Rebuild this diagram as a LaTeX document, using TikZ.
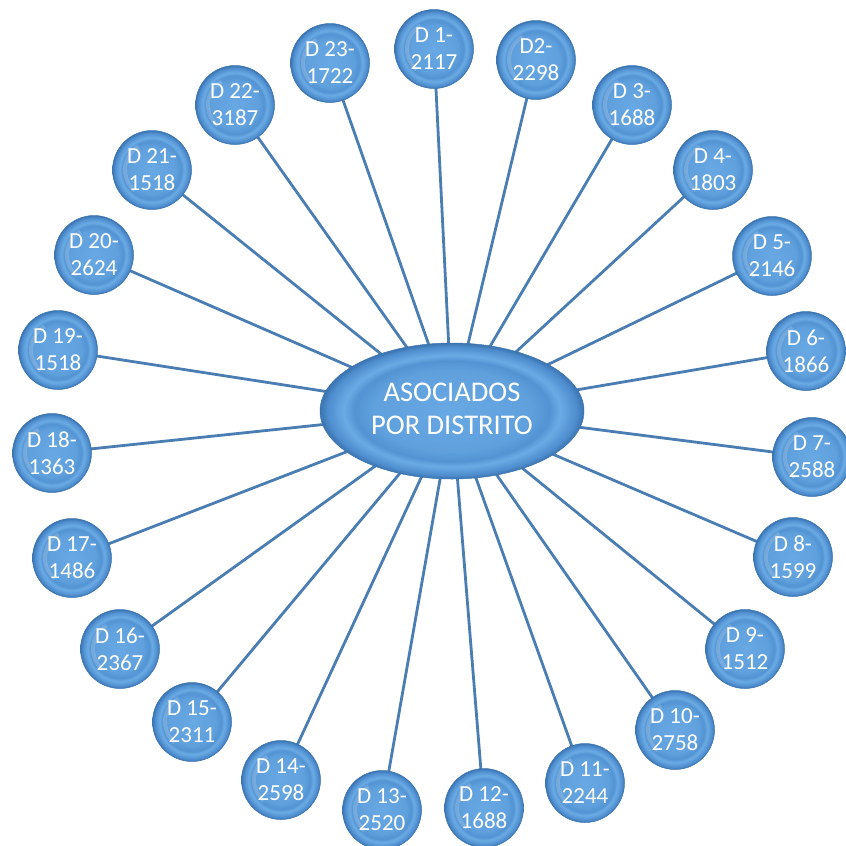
\documentclass[tikz,border=0pt]{standalone}
\usepackage{fontspec}
\setmainfont{Carlito}
\usetikzlibrary{shapes.geometric}
\definecolor{bA}{HTML}{68A9E4}
\definecolor{bB}{HTML}{5FA0DD}
\definecolor{bC}{HTML}{5393D3}
\definecolor{bD}{HTML}{6BABE4}
\definecolor{bE}{HTML}{4F8ECF}
\definecolor{bF}{HTML}{3B74B0}
\definecolor{spokecol}{HTML}{4A7DB2}
\pgfdeclareradialshading{bead}{\pgfpoint{0bp}{0bp}}{color(0bp)=(bA); color(15bp)=(bB); color(18.5bp)=(bC); color(20.5bp)=(bD); color(23.5bp)=(bE); color(25bp)=(bF); color(50bp)=(bF)}
\pgfdeclarelayer{background}
\pgfsetlayers{background,main}
\tikzset{
  bead/.style={circle, minimum size=79pt, inner sep=0pt, shading=bead, draw=bF, line width=0.5pt,
    text=white, align=center, font=\fontsize{23}{27}\selectfont,
    path picture={\draw[white, opacity=0.18, line width=4pt] (path picture bounding box.center) ++(120:27pt) arc[start angle=120, end angle=230, radius=27pt];}},
  hub/.style={ellipse, minimum width=264pt, minimum height=136pt, inner sep=0pt, shading=bead, draw=bF, line width=0.5pt,
    text=white, align=center, font=\fontsize{28.5}{35}\selectfont},
  spoke/.style={draw=spokecol, line width=2.8pt}
}
\begin{document}
\begin{tikzpicture}[x=1pt,y=-1pt]
\useasboundingbox (0,0) rectangle (846,846);
\begin{scope}
\clip (0,0) rectangle (846,846);
\node[hub] (c) at (452,411) {\raisebox{-6pt}{\begin{tabular}{@{}c@{}}ASOCIADOS\\[-2pt]POR DISTRITO\end{tabular}}};
\node[bead] (d1) at (434,49) {D 1-\\2117};
\node[bead] (d2) at (536,60) {D2-\\2298};
\node[bead] (d3) at (632,105) {D 3-\\1688};
\node[bead] (d4) at (713,170) {D 4-\\1803};
\node[bead] (d5) at (772,256) {D 5-\\2146};
\node[bead] (d6) at (806,351) {D 6-\\1866};
\node[bead] (d7) at (812,457) {D 7-\\2588};
\node[bead] (d8) at (793,557) {D 8-\\1599};
\node[bead] (d9) at (745,649) {D 9-\\1512};
\node[bead] (d10) at (675,730) {D 10-\\2758};
\node[bead] (d11) at (585,783) {D 11-\\2244};
\node[bead] (d12) at (484,808) {D 12-\\1688};
\node[bead] (d13) at (382,810) {D 13-\\2520};
\node[bead] (d14) at (281,780) {D 14-\\2598};
\node[bead] (d15) at (192,722) {D 15-\\2311};
\node[bead] (d16) at (120,649) {D 16-\\2367};
\node[bead] (d17) at (72,558) {D 17-\\1486};
\node[bead] (d18) at (52,453) {D 18-\\1363};
\node[bead] (d19) at (58,350) {D 19-\\1518};
\node[bead] (d20) at (94,255) {D 20-\\2624};
\node[bead] (d21) at (152,170) {D 21-\\1518};
\node[bead] (d22) at (235,105) {D 22-\\3187};
\node[bead] (d23) at (330,63) {D 23-\\1722};
\begin{pgfonlayer}{background}
\foreach \i in {1,...,23} {\draw[spoke] (c.center) -- (d\i.center);}
\end{pgfonlayer}
\end{scope}
\end{tikzpicture}
\end{document}
